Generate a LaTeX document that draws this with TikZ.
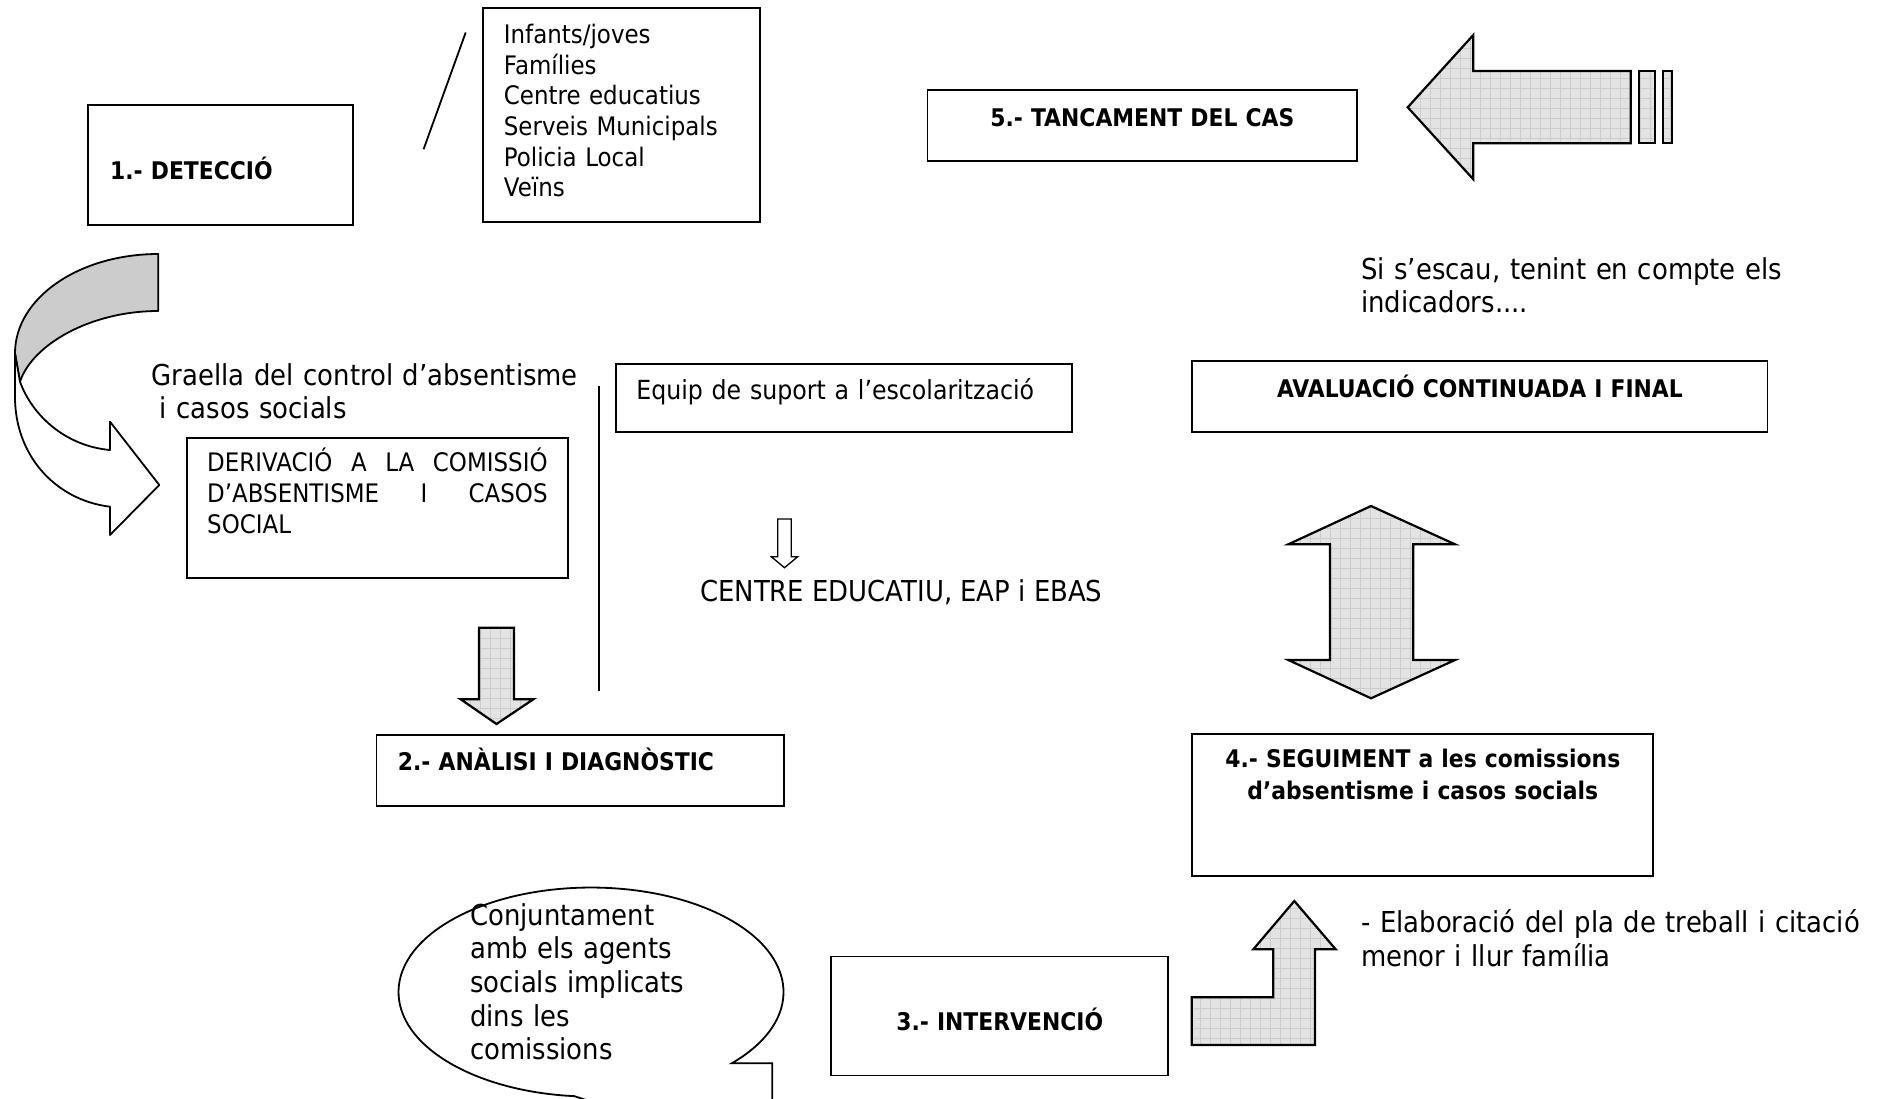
\documentclass[tikz,border=0pt]{standalone}
\usepackage{fontspec}
\setmainfont{DejaVu Sans}[FakeStretch=0.9]
\usetikzlibrary{patterns.meta}

\tikzset{
    box/.style={draw,line width=1.8pt,anchor=north west,inner ysep=0pt,inner xsep=10pt},
    normaltxt/.style={font=\fontsize{25.5}{30.6}\selectfont},
    bigtxt/.style={font=\fontsize{28.8}{33.7}\selectfont,anchor=base west,inner sep=0pt,align=left},
    headtxt/.style={font=\bfseries\fontsize{24.3}{32}\selectfont},
    blockarrow/.style={draw,line width=2.2pt,line join=miter,
        preaction={fill=black!11},
        preaction={pattern={Lines[distance=10pt,line width=0.7pt]},pattern color=black!20},
        preaction={pattern={Lines[angle=90,distance=10pt,line width=0.7pt]},pattern color=black!20}},
    ribbon/.style={draw=black,line width=1.8pt,line join=round},
    thinarrow/.style={draw,line width=1.3pt,fill=white,line join=miter},
}

\begin{document}
\begin{tikzpicture}[x=1pt,y=-1pt]
    \useasboundingbox (0,0) rectangle (1887,1098);
    \clip (0,0) rectangle (1887,1098);

    \node[box,headtxt,inner xsep=22.6pt,text width=219.8pt,align=left,text height=74.3pt,text depth=45.7pt] (detec) at (86.7,104) {1.- DETECCIÓ};
    \draw[line width=1.8pt] (423.6,149.2) -- (465.7,32.5);
    \node[box,normaltxt,inner xsep=21.3pt,text width=234.7pt,align=left,text height=35.4pt,text depth=178.3pt] (agents) at (481.7,7.3)
        {Infants/joves\\Famílies\\Centre educatius\\Serveis Municipals\\Policia Local\\Veïns};

    \node[box,headtxt,text width=409.6pt,align=center,text height=36.5pt,text depth=34.5pt] (tancament) at (926.6,89.1) {5.- TANCAMENT DEL CAS};
    \draw[blockarrow] (1407.7,107.3) -- (1473.3,35) -- (1473.3,71) -- (1630.7,71) -- (1630.7,143.3) -- (1473.3,143.3) -- (1473.3,179.3) -- cycle;
    \draw[blockarrow] (1638.7,71) rectangle (1655.3,143.3);
    \draw[blockarrow] (1663,71) rectangle (1672,143.3);

    \node[bigtxt,text width=500pt] (siescau) at (1361,279) {Si s’escau, tenint en compte els\\indicadors....};

    \filldraw[fill=black!20,ribbon] (158.3,254) .. controls (79,254) and (15,298) .. (15,353.3) -- (20,381.7) .. controls (32,345) and (90,311) .. (158.3,311) -- cycle;
    \filldraw[fill=white,ribbon] (15,353.3) -- (15,397) .. controls (15,455) and (55,500) .. (110,506.7) -- (110,535) -- (159.3,485) -- (110,421.7) -- (110,450) .. controls (65,446) and (32,415) .. (20,381.7) -- cycle;

    \node[bigtxt,text width=450pt] (graella) at (151.6,385) {Graella del control d’absentisme\\\hspace*{8pt}i casos socials};
    \node[box,normaltxt,inner xsep=20.6pt,text width=340.4pt,align=left,text height=34.3pt,text depth=106.3pt] (derivacio) at (185.7,436.7)
        {DERIVACIÓ\hfill A\hfill LA\hfill COMISSIÓ\\D’ABSENTISME\hfill I\hfill CASOS\\SOCIAL};
    \draw[line width=1.8pt] (599.3,386.3) -- (599.3,690.8);
    \node[box,font=\fontsize{26.3}{31}\selectfont,inner xsep=20.4pt,text width=415.2pt,align=left,text height=35.6pt,text depth=31.8pt] (suport) at (615,363.4) {Equip de suport a l’escolarització};
    \draw[thinarrow] (777.8,519) -- (791.2,519) -- (791.2,556.7) -- (797.7,556.7) -- (784.5,567.7) -- (771.3,556.7) -- (777.8,556.7) -- cycle;
    \node[bigtxt] (centre) at (700,601.7) {CENTRE EDUCATIU, EAP i EBAS};

    \draw[blockarrow] (479,627.7) -- (514,627.7) -- (514,699.3) -- (533.3,699.3) -- (496.5,724) -- (460.7,699.3) -- (479,699.3) -- cycle;
    \node[box,headtxt,inner xsep=21.5pt,text width=364.8pt,align=left,text height=36pt,text depth=35pt] (diagnostic) at (375.5,734) {2.- ANÀLISI I DIAGNÒSTIC};

    \node[box,headtxt,text width=555.2pt,align=center,text height=36.6pt,text depth=34.4pt] (avaluacio) at (1191.4,359.8) {AVALUACIÓ CONTINUADA I FINAL};
    \draw[blockarrow] (1371,506) -- (1455,544.3) -- (1413.3,544.3) -- (1413.3,660) -- (1455,660) -- (1371,698.3) -- (1288.3,660) -- (1330,660) -- (1330,544.3) -- (1288.3,544.3) -- cycle;
    \node[box,headtxt,text width=441pt,align=center,text height=34.3pt,text depth=108pt] (seguiment) at (1191.4,732.7)
        {4.- SEGUIMENT a les comissions\\d’absentisme i casos socials};

    \draw[line width=1.8pt,fill=white] (772.3,1160) -- (772.3,1063.3) -- (731.8,1063.3) arc[start angle=43,end angle=-265,x radius=192.5,y radius=104.5] -- cycle;
    \node[bigtxt,text width=300pt] (bubbletxt) at (470,925) {Conjuntament\\amb els agents\\socials implicats\\dins les\\comissions};

    \node[box,headtxt,text width=317pt,align=center,text height=73.9pt,text depth=45.2pt] (intervencio) at (830.3,955.5) {3.- INTERVENCIÓ};
    \draw[blockarrow] (1191.7,1045) -- (1191.7,997.3) -- (1273.3,997.3) -- (1273.3,949.3) -- (1253.3,949.3) -- (1294.3,901) -- (1335.7,949.3) -- (1315,949.3) -- (1315,1045) -- cycle;
    \node[bigtxt,text width=520pt] (elaboracio) at (1361,932.5) {- Elaboració del pla de treball i citació\\menor i llur família};
\end{tikzpicture}
\end{document}
